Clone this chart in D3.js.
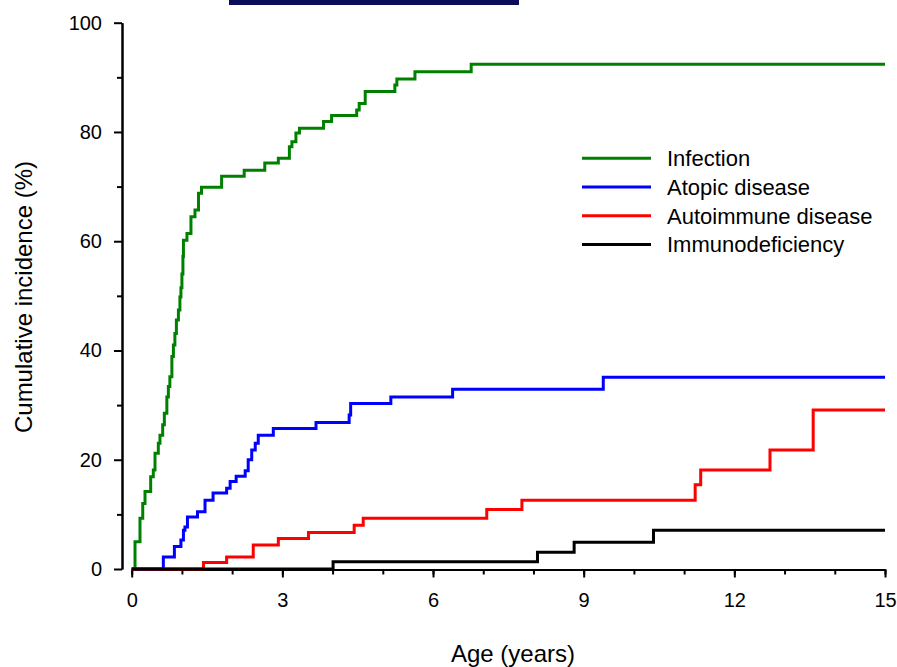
<!DOCTYPE html>
<html>
<head>
<meta charset="utf-8">
<script src="https://cdn.jsdelivr.net/npm/d3@7"></script>
<style>
  body { margin: 0; background: #fff; }
  svg { display: block; }
  .axis path, .axis line { stroke: #000; stroke-width: 2px; }
  .axis text { font-family: "Liberation Sans", Arial, sans-serif; font-size: 20px; fill: #000; }
</style>
</head>
<body>
<div id="chart"></div>
<script>
// canvas
var width = 897,
    height = 667;

// age (years) at each step and cumulative incidence (%) after it
var infectionAge = [0, 0.066, 0.165, 0.22, 0.265, 0.378, 0.43, 0.464, 0.53, 0.563, 0.617, 0.65, 0.70, 0.73, 0.76, 0.80, 0.83, 0.86, 0.89, 0.93, 0.96, 0.98, 1.0, 1.02, 1.03, 1.10, 1.18, 1.26, 1.33, 1.39, 1.79, 2.24, 2.65, 2.92, 3.14, 3.19, 3.27, 3.34, 3.82, 3.98, 4.48, 4.53, 4.65, 5.24, 5.28, 5.64, 6.76];
var infectionPct = [0, 5.0, 9.3, 12.0, 14.2, 16.9, 18.1, 21.2, 23.0, 24.5, 26.4, 28.5, 31.5, 33.4, 35.2, 38.9, 41.0, 43.1, 45.6, 47.4, 49.8, 51.5, 54.0, 57.2, 60.2, 61.4, 64.5, 65.7, 68.8, 69.9, 71.9, 73.0, 74.3, 75.2, 77.3, 78.2, 79.8, 80.7, 81.9, 83.0, 84.0, 85.2, 87.4, 88.6, 89.7, 91.0, 92.4];

var atopicAge = [0, 0.63, 0.85, 0.98, 1.03, 1.06, 1.11, 1.31, 1.46, 1.62, 1.89, 1.96, 2.08, 2.26, 2.32, 2.39, 2.46, 2.52, 2.82, 3.67, 4.33, 4.36, 5.16, 6.39, 9.39];
var atopicPct = [0, 2.2, 4.1, 5.3, 7.1, 7.7, 9.5, 10.5, 12.6, 13.9, 14.8, 16.0, 17.0, 18.0, 20.0, 21.8, 23.0, 24.5, 25.7, 26.8, 28.2, 30.3, 31.5, 32.9, 35.1];

var autoimmuneAge = [0, 1.43, 1.89, 2.42, 2.92, 3.52, 4.43, 4.61, 7.07, 7.77, 11.22, 11.33, 12.71, 13.57];
var autoimmunePct = [0, 1.2, 2.2, 4.4, 5.6, 6.7, 8.0, 9.3, 10.9, 12.6, 15.4, 18.1, 21.8, 29.1];

var immunoAge = [0, 4.01, 8.08, 8.81, 10.39];
var immunoPct = [0, 1.35, 3.05, 4.9, 7.1];

var seriesNames = ["Infection", "Atopic disease", "Autoimmune disease", "Immunodeficiency"];
var seriesColors = ["#008000", "#0000ff", "#ff0000", "#000000"];

var xTicks = [0, 3, 6, 9, 12, 15],
    xMinorTicks = d3.range(0, 16, 1),
    yTicks = [0, 20, 40, 60, 80, 100],
    yMinorTicks = [10, 30, 50, 70, 90];

var series = [
    {name: seriesNames[0], age: infectionAge, pct: infectionPct},
    {name: seriesNames[1], age: atopicAge, pct: atopicPct},
    {name: seriesNames[2], age: autoimmuneAge, pct: autoimmunePct},
    {name: seriesNames[3], age: immunoAge, pct: immunoPct}
];

var svg = d3.select("#chart")
    .append("svg")
    .attr("width", width)
    .attr("height", height);

// scales
var x = d3.scaleLinear().domain([0, 15]).range([131.7, 885]);
var y = d3.scaleLinear().domain([0, 100]).range([569, 22.7]);

var xAxisY = 569.5,
    yAxisX = 122;

// dark bar at the very top
svg.append("rect")
    .attr("x", 229)
    .attr("y", 0)
    .attr("width", 290)
    .attr("height", 5)
    .attr("fill", "#0b0c5a");

// minor ticks first, then the labelled axes
svg.append("g")
    .attr("class", "axis")
    .attr("transform", "translate(0," + xAxisY + ")")
    .call(d3.axisBottom(x).tickValues(xMinorTicks).tickSize(5).tickSizeOuter(0).tickFormat(""));

svg.append("g")
    .attr("class", "axis")
    .attr("transform", "translate(0," + xAxisY + ")")
    .call(d3.axisBottom(x).tickValues(xTicks).tickSize(8).tickSizeOuter(0).tickPadding(15).tickFormat(d3.format("d")));

svg.append("g")
    .attr("class", "axis")
    .attr("transform", "translate(" + yAxisX + ",0)")
    .call(d3.axisLeft(y).tickValues(yMinorTicks).tickSize(5).tickSizeOuter(0).tickFormat(""));

svg.append("g")
    .attr("class", "axis")
    .attr("transform", "translate(" + yAxisX + ",0)")
    .call(d3.axisLeft(y).tickValues(yTicks).tickSize(8).tickSizeOuter(0).tickPadding(12).tickFormat(d3.format("d")));

// the step curves, each held flat to the end of follow-up
var line = d3.line()
    .x(function(d) { return x(d[0]); })
    .y(function(d) { return y(d[1]); })
    .curve(d3.curveStepAfter);

series.forEach(function(s, i) {
    var pts = s.age.map(function(a, j) { return [a, s.pct[j]]; });
    pts.push([15, s.pct[s.pct.length - 1]]);
    svg.append("path")
        .attr("d", line(pts))
        .attr("fill", "none")
        .attr("stroke", seriesColors[i])
        .attr("stroke-width", 3)
        .attr("stroke-linejoin", "miter");
});

// axis titles
svg.append("text")
    .attr("x", 513)
    .attr("y", 662)
    .attr("text-anchor", "middle")
    .style("font-family", "Liberation Sans, Arial, sans-serif")
    .style("font-size", "24px")
    .text("Age (years)");

svg.append("text")
    .attr("transform", "translate(32,297) rotate(-90)")
    .attr("text-anchor", "middle")
    .style("font-family", "Liberation Sans, Arial, sans-serif")
    .style("font-size", "24px")
    .text("Cumulative incidence (%)");

// legend
var legend = svg.selectAll(".legend")
    .data(seriesNames)
    .enter()
    .append("g")
    .attr("class", "legend")
    .attr("transform", function(d, i) { return "translate(582," + (158.3 + i * 28.7) + ")"; });

legend.append("line")
    .attr("x1", 0)
    .attr("x2", 69)
    .attr("stroke", function(d, i) { return seriesColors[i]; })
    .attr("stroke-width", 3);

legend.append("text")
    .attr("x", 85)
    .attr("dy", "0.36em")
    .style("font-family", "Liberation Sans, Arial, sans-serif")
    .style("font-size", "22px")
    .text(function(d) { return d; });
</script>
</body>
</html>
